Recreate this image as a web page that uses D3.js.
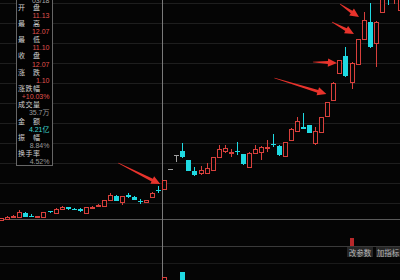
<!DOCTYPE html>
<html><head><meta charset="utf-8">
<script src="https://cdn.jsdelivr.net/npm/d3@7/dist/d3.min.js"></script>
<style>html,body{margin:0;padding:0;background:#050505;overflow:hidden}svg{display:block}</style>
</head><body><svg id="c" width="400" height="280"></svg>
<script>
// ---- data ----
const opens  = [8.08,8.13,8.38,8.33,8.73,8.48,8.33,8.38,8.89,8.73,9.14,9.34,9.19,9.19,8.73,9.29,9.49,9.49,10.05,10.45,9.85,10.55,10.35,9.95,9.85,10.35,11.10,11.13,13.18,14.59,15.00,14.09,12.93,12.73,12.78,13.13,14.39,15.00,14.80,14.95,14.69,13.43,14.80,14.85,15.35,15.75,15.55,14.54,16.16,17.02,17.42,17.62,15.81,16.92,18.53,20.10,22.88,24.59,21.97,23.79,26.31,27.98,25.91,29.04,32.27,31.30,29.24];
const closes = [8.23,8.33,8.43,8.84,8.38,8.43,8.43,8.79,8.79,9.14,9.34,9.14,9.09,8.89,9.34,9.39,9.59,10.05,10.55,9.95,10.45,10.35,10.10,9.85,10.05,10.76,10.97,12.07,13.18,14.59,14.39,12.98,12.62,13.13,13.28,14.39,15.25,15.35,14.90,14.85,13.68,14.80,15.25,15.45,15.45,15.60,14.59,15.86,17.27,18.03,17.27,16.82,17.02,18.43,19.95,21.87,24.19,22.57,23.89,26.31,28.28,25.50,28.03,30.55,31.26,32.00,31.00];
const highs  = [8.28,8.43,8.53,9.04,8.84,8.63,8.48,8.84,8.94,9.24,9.44,9.39,9.24,9.24,9.39,9.44,9.69,10.10,10.76,10.60,10.50,10.76,10.45,10.15,10.10,10.86,11.51,12.07,13.18,14.59,15.81,14.14,13.38,13.53,13.74,14.44,15.60,15.60,15.20,15.91,14.74,14.85,15.60,15.50,16.11,16.72,15.60,15.91,17.37,18.43,18.84,17.67,17.42,18.48,19.99,21.92,24.24,25.50,23.94,26.36,29.04,29.95,28.08,30.86,32.78,32.30,31.30];
const lows   = [8.03,8.08,8.28,8.28,8.33,8.33,8.23,8.33,8.73,8.68,9.09,9.09,9.04,8.84,8.68,9.24,9.39,9.44,10.00,9.90,9.54,10.25,10.05,9.64,9.80,10.30,10.76,11.10,13.18,13.89,14.34,12.93,12.47,12.57,12.73,13.08,14.34,14.80,14.39,14.59,13.58,13.33,14.74,14.09,14.90,15.40,14.54,14.49,16.11,16.97,17.22,16.77,15.60,16.87,18.43,20.05,22.83,22.52,21.26,23.74,26.26,25.45,23.48,28.99,29.74,29.85,29.20];
const volIndex = [27, 30];
const volumes  = [35.7, 43.5];     // 万手 (only bars reaching into view)
const subIndex = [58];
const subValues = [0.8];
const selectedIndex = 27;
const infoDate = "03/18";
const infoLabels = ["开盘","最高","最低","收盘","涨跌","涨跌幅","成交量","金额","振幅","换手率"];
const infoValues = ["11.13","12.07","11.10","12.07","1.10","+10.03%","35.7万","4.21亿","8.84%","4.52%"];
const infoKinds  = ["up","up","up","up","up","up","plain","cyan","plain","plain"];
// arrows: target candle index, target price, tail offset
const arrowIdx    = [27, 55, 56, 59, 60];
const arrowPrice  = [11.66, 20.76, 23.89, 26.82, 28.53];
const arrowDX     = [-4, -7, -2.5, -3.6, -4.6];
const arrowTail   = [[-42,-21],[-52,-16],[-24,-1],[-22,-12],[-19,-13]];
const tagLabels = ["改参数","加指标"];

// ---- style ----
const RED = "#d8403c", CYAN = "#1fdae2", GRAY = "#a0a0a0", BG = "#050505";
const svg = d3.select("#c");
svg.append("rect").attr("width",400).attr("height",280).attr("fill",BG);

const x = d3.scaleLinear().domain([0, 66]).range([1.2, 1.2 + 66*6.04]);
const y = d3.scaleLinear().domain([10.05, 30.25]).range([200, 0]);
const vy = d3.scaleLinear().domain([0, 100]).range([300, 236]);
const sy = d3.scaleLinear().domain([0, 1]).range([246, 236]);

// grid
const grid = svg.append("g").attr("shape-rendering","crispEdges");
d3.range(3, 210, 20).forEach(gy => grid.append("line").attr("x1",0).attr("x2",400).attr("y1",gy+0.5).attr("y2",gy+0.5).attr("stroke","#1e1e1e"));
[263].forEach(gy => grid.append("line").attr("x1",0).attr("x2",400).attr("y1",gy+0.5).attr("y2",gy+0.5).attr("stroke","#1a1a1a"));
grid.append("line").attr("x1",0).attr("x2",400).attr("y1",219.5).attr("y2",219.5).attr("stroke","#5a5a5a");
grid.append("line").attr("x1",0).attr("x2",400).attr("y1",246.5).attr("y2",246.5).attr("stroke","#3a3a3a");

// crosshair
const cxSel = Math.round(x(selectedIndex)) + 0.5;
grid.append("line").attr("x1",cxSel-2).attr("x2",cxSel-2).attr("y1",0).attr("y2",280).attr("stroke","#7a7a7a");

// candles
const cg = svg.append("g").attr("shape-rendering","crispEdges");
opens.forEach((o,i) => {
  const c = closes[i], h = highs[i], l = lows[i];
  const cx = Math.round(x(i)) + 0.5;
  const col = c > o ? RED : (c < o ? CYAN : GRAY);
  const top = Math.round(y(Math.max(o,c))), bot = Math.round(y(Math.min(o,c)));
  cg.append("line").attr("x1",cx).attr("x2",cx).attr("y1",y(h)).attr("y2",y(l)).attr("stroke",col);
  if (c > o) {
    cg.append("rect").attr("x",cx-2).attr("y",top+0.5).attr("width",4).attr("height",Math.max(1,bot-top))
      .attr("fill",BG).attr("stroke",col);
  } else if (c < o) {
    cg.append("rect").attr("x",cx-2.5).attr("y",top).attr("width",5).attr("height",Math.max(1,bot-top)).attr("fill",col);
  } else {
    cg.append("line").attr("x1",cx-2.5).attr("x2",cx+2.5).attr("y1",top+0.5).attr("y2",top+0.5).attr("stroke",col);
  }
});

// volume bars
volIndex.forEach((vi,k) => {
  const cx = Math.round(x(vi)) + 0.5;
  const up = closes[vi] > opens[vi];
  const t = Math.round(vy(volumes[k]));
  if (up) cg.append("rect").attr("x",cx-2).attr("y",t+0.5).attr("width",4).attr("height",300-t).attr("fill",BG).attr("stroke",RED);
  else cg.append("rect").attr("x",cx-2.5).attr("y",t).attr("width",5).attr("height",300-t).attr("fill",CYAN);
});
// sub indicator bar
subIndex.forEach((si,k) => {
  const cx = Math.round(x(si)) + 0.5;
  cg.append("rect").attr("x",cx-2.5).attr("y",sy(subValues[k])).attr("width",3.5).attr("height",sy(0)-sy(subValues[k])).attr("fill","#b8282a");
});

// arrows
const ag = svg.append("g");
arrowIdx.forEach((ai,k) => {
  const tx = x(ai) + arrowDX[k], ty = y(arrowPrice[k]);
  const sx = tx + arrowTail[k][0], syy = ty + arrowTail[k][1];
  const dx = tx - sx, dy = ty - syy, L = Math.hypot(dx,dy), ux = dx/L, uy = dy/L, px = -uy, py = ux;
  const hl = 9, hw = 4.2, sw = 1.5, tw = 0.3;
  const bx = tx - ux*hl, by = ty - uy*hl;
  const pts = [[sx+px*tw, syy+py*tw],[bx+px*sw, by+py*sw],[bx+px*hw, by+py*hw],[tx,ty],[bx-px*hw, by-py*hw],[bx-px*sw, by-py*sw],[sx-px*tw, syy-py*tw]];
  ag.append("polygon").attr("points", pts.map(p=>p.join(",")).join(" ")).attr("fill","#e8332c");
});

// info box
const ib = svg.append("g");
ib.append("rect").attr("x",16.5).attr("y",-5).attr("width",36).attr("height",170.5).attr("fill","#020202").attr("stroke","#666").attr("shape-rendering","crispEdges");
const numFont = "'Liberation Sans', Arial, sans-serif";
const cjkFont = "'Noto Sans CJK SC', sans-serif";
ib.append("text").attr("x",49.5).attr("y",2.5).attr("text-anchor","end").attr("font-family",numFont).attr("font-size",7).attr("fill","#aaaaaa").text(infoDate);
infoLabels.forEach((lab,j) => {
  const bl = 9.6 + 8.14*(2*j);
  const chars = Array.from(lab);
  const xs = chars.length === 2 ? [18, 33] : [18, 25.5, 33];
  chars.forEach((ch,m) => ib.append("text").attr("x",xs[m]).attr("y",bl).attr("font-family",cjkFont).attr("font-size",7).attr("fill","#d0d0d0").text(ch));
  const vb = 9.6 + 8.14*(2*j+1);
  const kind = infoKinds[j];
  const col = kind === "up" ? "#e0524f" : (kind === "cyan" ? "#3fd6d0" : "#9a9a9a");
  ib.append("text").attr("x",49.5).attr("y",vb).attr("text-anchor","end").attr("font-family",numFont + ", " + cjkFont).attr("font-size",7).attr("fill",col).text(infoValues[j]);
});

// tag buttons
const tg = svg.append("g");
const tagX = [347, 376], tagW = [26, 24];
tagLabels.forEach((t,k) => {
  tg.append("rect").attr("x",tagX[k]).attr("y",247).attr("width",tagW[k]).attr("height",10).attr("fill","#262626");
  tg.append("text").attr("x",tagX[k]+tagW[k]/2).attr("y",255.5).attr("text-anchor","middle").attr("font-family",cjkFont).attr("font-size",7.5).attr("fill","#b8b8b8").text(t);
});
</script></body></html>
